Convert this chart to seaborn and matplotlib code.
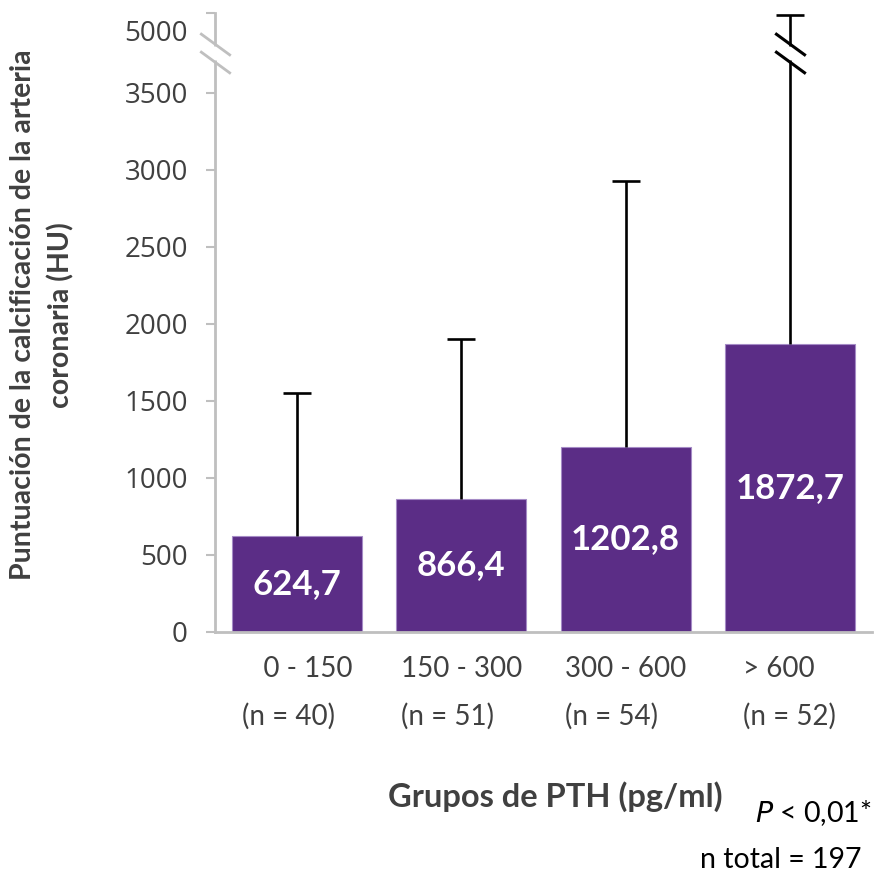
import numpy as np
import pandas as pd
import matplotlib
matplotlib.use("Agg")
import matplotlib.pyplot as plt
import seaborn as sns

# ---- data ----
groups = ["   0 - 150\n(n = 40)", "150 - 300\n(n = 51)", "300 - 600\n(n = 54)", "> 600\n(n = 52)"]
means = [624.7, 866.4, 1202.8, 1872.7]
upper = [1550, 1900, 2930, 4960]          # top of the (upper) error bars
ytick_vals = [0, 500, 1000, 1500, 2000, 2500, 3000, 3500, 5000]
bar_text = ["624,7", "866,4", "1202,8", "1872,7"]

PURPLE = "#5B2D86"
GRAY_TXT = "#404040"
AXIS_GRAY = "#BFBFBF"

sns.set_theme(style="white")
plt.rcParams["font.family"] = ["Lato", "DejaVu Sans"]

fig = plt.figure(figsize=(8.78, 8.76), dpi=100)
W, H = 878, 876
ax = fig.add_axes([215 / W, (H - 632) / H, (872 - 215) / W, (632 - 13) / H])

# broken y-scale: linear to 3500, compressed above
BRK = 3500.0
K = 0.3463
def fwd(y):
    y = np.asarray(y, float)
    return np.where(y <= BRK, y, BRK + (y - BRK) * K)
def inv(t):
    t = np.asarray(t, float)
    return np.where(t <= BRK, t, BRK + (t - BRK) / K)

df = pd.DataFrame({"grupo": groups, "media": means})
sns.barplot(data=df, x="grupo", y="media", color=PURPLE, saturation=1,
            width=0.79, edgecolor="#A58BC6", linewidth=0.8, ax=ax, zorder=2)

err_up = np.array(upper) - np.array(means)
eb = ax.errorbar(np.arange(len(means)), means, yerr=[np.zeros(len(means)), err_up],
                 fmt="none", ecolor="black", elinewidth=1.9, capsize=10,
                 capthick=1.9, zorder=3)
# hide the lower caps (only the upper half of the error bar is shown)
for cl in eb[1]:
    if np.allclose(cl.get_ydata(), means):
        cl.set_visible(False)

ax.set_yscale("function", functions=(fwd, inv))
ax.set_ylim(0, 5000)
ax.set_xlim(-0.5, 3.5)

# value labels inside bars
for p, t in zip(ax.patches, bar_text):
    ax.text(p.get_x() + p.get_width() / 2, p.get_height() / 2, t,
            ha="center", va="center", color="white", fontsize=25,
            fontweight="bold", zorder=4)

# y ticks
TICKFONT = ["Open Sans", "DejaVu Sans"]
ax.set_yticks(ytick_vals)
ax.set_yticklabels([str(v) if v != 5000 else "" for v in ytick_vals],
                   fontfamily=TICKFONT, fontsize=20, color=GRAY_TXT)
ax.annotate("5000", xy=(0, 5000), xycoords=ax.get_yaxis_transform(),
            xytext=(-27, -21), textcoords="offset pixels", ha="right", va="center",
            fontfamily=TICKFONT, fontsize=20, color=GRAY_TXT,
            annotation_clip=False)
ax.tick_params(axis="y", left=True, length=6.5, width=1.5, color=AXIS_GRAY, pad=13)

# x ticks
ax.set_xlabel("")
ax.set_ylabel("")
ax.set_xticks(range(len(groups)))
ax.set_xticklabels(groups, fontsize=20, color=GRAY_TXT, linespacing=1.95,
                   multialignment="left")
ax.tick_params(axis="x", length=0, pad=17)

for s in ["top", "right"]:
    ax.spines[s].set_visible(False)
for s in ["left", "bottom"]:
    ax.spines[s].set_color(AXIS_GRAY)
    ax.spines[s].set_linewidth(2)

# axis breaks (spine and last error bar)
b_lo, b_hi = 4081, 4419
slash = [(-1, 0.73), (1, -0.73)]
ax.plot([0, 0], [b_lo + 40, b_hi - 40], transform=ax.get_yaxis_transform(),
        color="white", lw=5, clip_on=False, zorder=5, solid_capstyle="butt")
ax.plot([0, 0], [b_lo, b_hi], transform=ax.get_yaxis_transform(), ls="none",
        marker=slash, ms=22, mec=AXIS_GRAY, mew=2, clip_on=False, zorder=6)
ax.plot([3, 3], [b_lo + 40, b_hi - 40], color="white", lw=5, zorder=5,
        solid_capstyle="butt", clip_on=False)
ax.plot([3, 3], [b_lo, b_hi], ls="none", marker=slash, ms=22, mec="black",
        mew=2.2, clip_on=False, zorder=6)

# axis titles and notes
fig.text(42 / W, 1 - 315 / H,
         "Puntuación de la calcificación de la arteria\ncoronaria (HU)",
         rotation=90, ha="center", va="center", multialignment="center",
         fontsize=20.5, fontweight="bold", color=GRAY_TXT, linespacing=1.5)
fig.text(555 / W, 1 - 797 / H, "Grupos de PTH (pg/ml)", ha="center", va="center",
         fontsize=23.5, fontweight="bold", color=GRAY_TXT)
fig.text(872 / W, 1 - 813 / H, r"$\mathit{P}$ < 0,01*", ha="right", va="center",
         fontsize=20.5, color="black")
fig.text(862 / W, 1 - 860 / H, "n total = 197", ha="right", va="center",
         fontsize=20.5, color="black")

fig.savefig("out.png", dpi=100)
